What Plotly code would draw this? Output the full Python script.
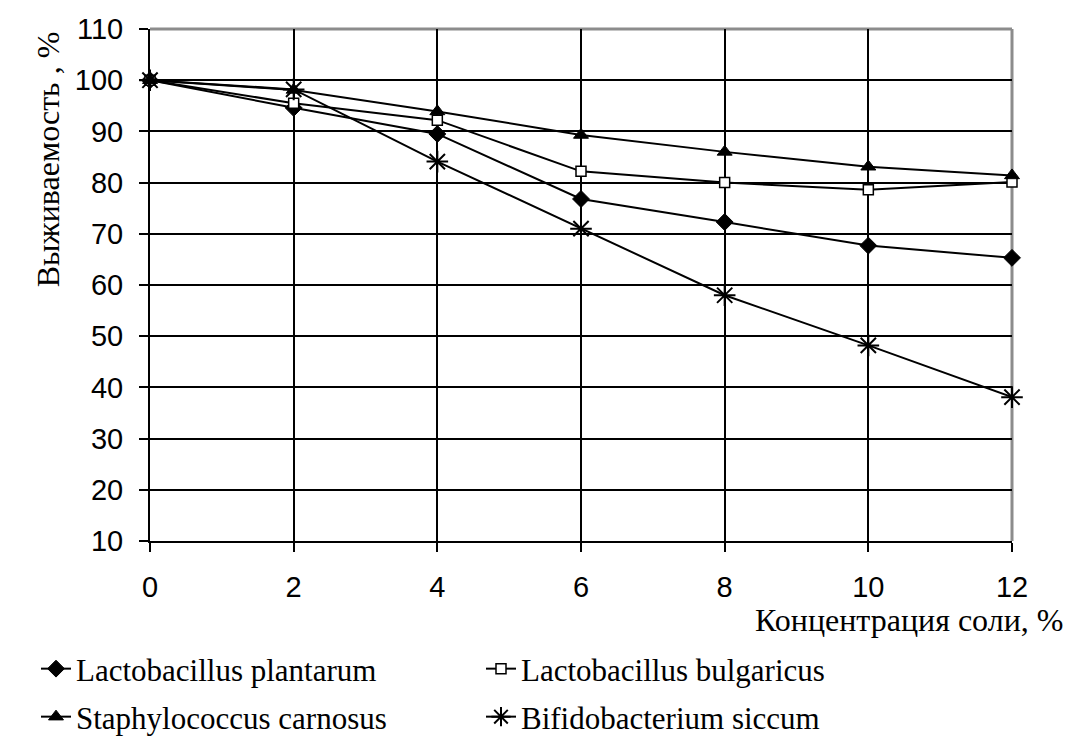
import plotly.graph_objects as go

concentration = [0, 2, 4, 6, 8, 10, 12]
names = ["Lactobacillus plantarum", "Lactobacillus bulgaricus",
         "Staphylococcus carnosus", "Bifidobacterium siccum"]
plantarum = [100, 94.6, 89.5, 76.8, 72.3, 67.7, 65.3]
bulgaricus = [100, 95.5, 92.2, 82.2, 80.0, 78.6, 80.1]
carnosus = [100, 98.1, 93.9, 89.3, 86.0, 83.1, 81.4]
siccum = [100, 98.2, 84.1, 71.0, 58.0, 48.2, 38.1]
y_ticks = [10, 20, 30, 40, 50, 60, 70, 80, 90, 100, 110]
x_ticks = [0, 2, 4, 6, 8, 10, 12]

series = [plantarum, bulgaricus, carnosus, siccum]
markers = [
    dict(symbol="diamond", size=13, color="black", line=dict(color="black", width=1)),
    dict(symbol="square", size=10, color="white", line=dict(color="black", width=1.5)),
    dict(symbol="triangle-up", size=13, color="black", line=dict(color="black", width=1)),
    dict(symbol="asterisk-open", size=18, color="black", line=dict(color="black", width=2)),
]
legend_ids = ["legend", "legend2", "legend3", "legend4"]
# legend anchor positions (container pixels): (left x, center y)
legend_pos = [(36, 669), (481, 669), (36, 717), (481, 717)]

fig = go.Figure()
for nm, ys, mk, lg in zip(names, series, markers, legend_ids):
    fig.add_trace(go.Scatter(
        x=concentration, y=ys, name=nm, mode="lines+markers",
        line=dict(color="black", width=2), marker=mk, legend=lg,
        cliponaxis=False,
    ))

# gray outer border (top and right)
for (x0, y0, x1, y1) in [(0, 1, 1, 1), (1, 0, 1, 1)]:
    fig.add_shape(type="line", xref="paper", yref="paper", x0=x0, y0=y0, x1=x1, y1=y1,
                  line=dict(color="#8c8c8c", width=3), layer="between")

tick_font = dict(family="Liberation Sans, Arial", size=29, color="black")
serif = "Liberation Serif, Times New Roman"

fig.update_xaxes(
    range=[0, 12], tickvals=x_ticks, ticktext=[str(v) for v in x_ticks],
    showgrid=True, gridcolor="black", gridwidth=2,
    showline=True, linecolor="black", linewidth=2,
    ticks="outside", ticklen=9, tickwidth=2, tickcolor="black",
    tickfont=tick_font, ticklabelstandoff=10, zeroline=False,
)
fig.update_yaxes(
    range=[10, 110], tickvals=y_ticks, ticktext=[str(v) for v in y_ticks],
    showgrid=True, gridcolor="black", gridwidth=2,
    showline=True, linecolor="black", linewidth=2,
    ticks="outside", ticklen=9, tickwidth=2, tickcolor="black",
    tickfont=tick_font, ticklabelstandoff=10, zeroline=False,
)

fig.add_annotation(text="Выживаемость , %", textangle=-90,
                   xref="paper", yref="paper", x=-0.118, y=1.0,
                   xanchor="center", yanchor="top", showarrow=False,
                   font=dict(family=serif, size=32, color="black"))
fig.add_annotation(text="Концентрация соли, %",
                   xref="paper", yref="paper", x=1.062, y=-0.154,
                   xanchor="right", yanchor="middle", showarrow=False,
                   font=dict(family=serif, size=32, color="black"))

W, H = 1070, 742
leg_layout = {}
for lg, (px, py) in zip(legend_ids, legend_pos):
    leg_layout[lg] = dict(
        orientation="h", xref="container", yref="container",
        x=px / W, y=(H - py) / H, xanchor="left", yanchor="middle",
        bgcolor="rgba(0,0,0,0)",
        font=dict(family=serif, size=31, color="black"),
    )

fig.update_layout(
    width=W, height=H,
    margin=dict(l=150, r=58, t=29, b=201),
    plot_bgcolor="white", paper_bgcolor="white",
    showlegend=True,
    **leg_layout,
)

fig.write_html("out.html")
